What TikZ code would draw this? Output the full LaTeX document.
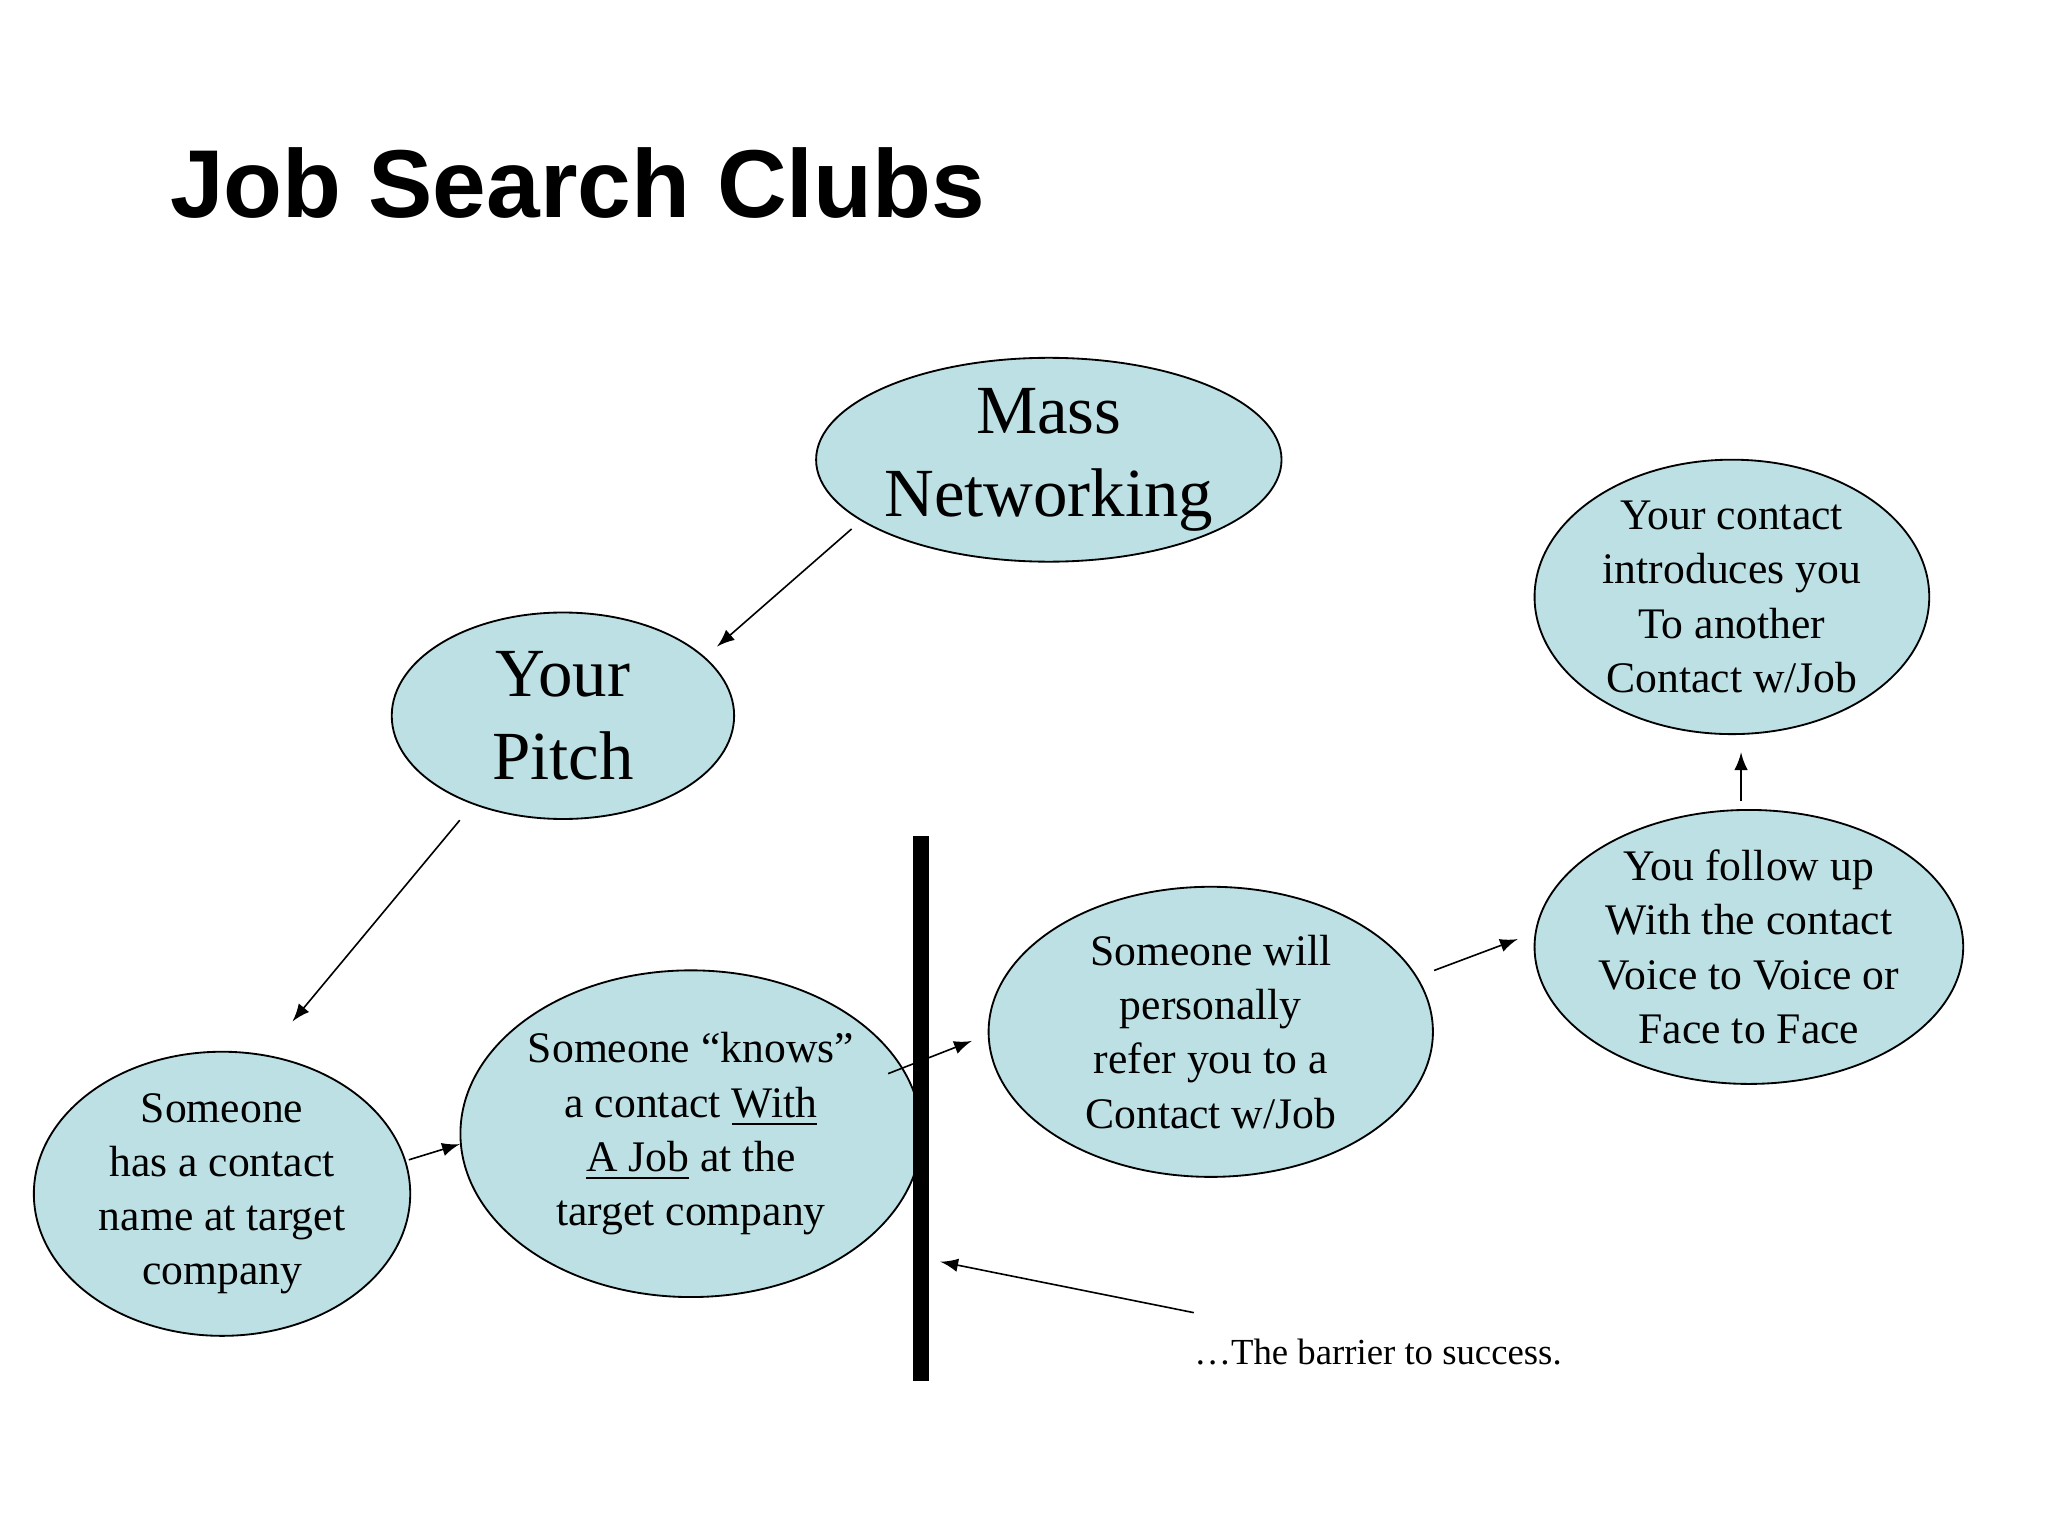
\documentclass[tikz,border=0pt]{standalone}
\usepackage{fontspec}
\setmainfont{Liberation Serif}
\newfontfamily\ttl{Liberation Sans}
\usetikzlibrary{shapes.geometric}
\definecolor{fillc}{HTML}{BCE0E3}
\begin{document}
\begin{tikzpicture}[x=0.01cm,y=-0.01cm,
 el/.style={ellipse,draw,fill=fillc,line width=0.4pt,inner sep=0pt,align=center,font=\fontsize{9.5}{11.8}\selectfont},
 arr/.style={-latex,line width=0.35pt}]
\useasboundingbox (0,0) rectangle (1568,1176);
\node[anchor=west,font=\ttl\bfseries\fontsize{21}{25}\selectfont] (t) at (118,140) {Job Search Clubs};
\node[el,minimum width=352\pgflinewidth*0+3.52cm,minimum height=1.56cm,font=\fontsize{15}{18}\selectfont] (mass) at (803,352) {Mass\\Networking};
\node[el,minimum width=2.62cm,minimum height=1.58cm,font=\fontsize{15}{18}\selectfont] (pitch) at (431,548) {Your\\Pitch};
\node[el,minimum width=2.88cm,minimum height=2.1cm] (has) at (170,914) {Someone\\has a contact\\name at target\\company};
\node[el,minimum width=3.26cm,minimum height=2.5cm] (knows) at (529,868) {Someone ``knows''\\a contact \underline{With}\\\underline{A Job} at the\\target company};
\node[el,minimum width=3.4cm,minimum height=2.22cm] (will) at (927,790) {Someone will\\personally\\refer you to a\\Contact w/Job};
\node[el,minimum width=3.28cm,minimum height=1.96cm] (follow) at (1339,725) {You follow up\\With the contact\\Voice to Voice or\\Face to Face};
\node[el,minimum width=3.02cm,minimum height=2.1cm] (intro) at (1326,457) {Your contact\\introduces you\\To another\\Contact w/Job};
\coordinate (b1) at (705,640); \coordinate (b2) at (705,1057);
\draw[line width=3.4pt] (b1) -- (b2);
\node[anchor=west,font=\fontsize{8}{10}\selectfont] (bar) at (902,1035) {\dots The barrier to success.};
\coordinate (a1) at (652,405); \coordinate (a2) at (549,495);
\coordinate (c1) at (352,628); \coordinate (c2) at (224,782);
\coordinate (d1) at (313,888); \coordinate (d2) at (352,876);
\coordinate (e1) at (680,822); \coordinate (e2) at (744,797);
\coordinate (f1) at (1098,743); \coordinate (f2) at (1162,719);
\coordinate (g1) at (1333,613); \coordinate (g2) at (1333,576);
\coordinate (h1) at (914,1005); \coordinate (h2) at (720,966);
\foreach \s/\e in {a1/a2,c1/c2,d1/d2,e1/e2,f1/f2,g1/g2,h1/h2}
 \draw[arr] (\s) -- (\e);
\end{tikzpicture}
\end{document}
